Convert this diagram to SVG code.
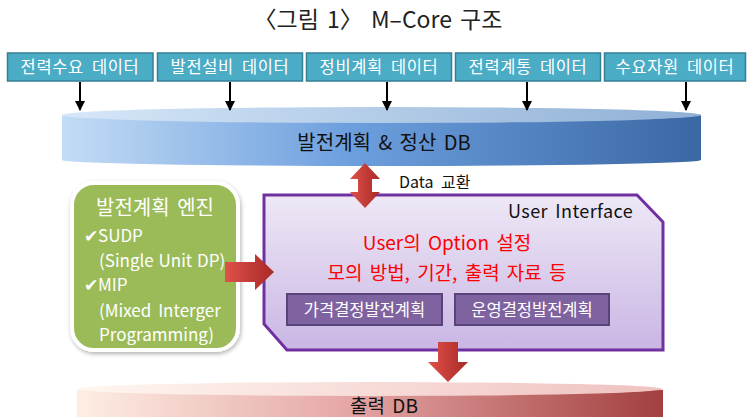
<svg xmlns="http://www.w3.org/2000/svg" width="747" height="417" viewBox="0 0 747 417">
<style>
text{font-family:"Noto Sans CJK KR","Noto Sans",sans-serif}
.title{font-size:23px;fill:#222;word-spacing:3px}
.src rect{fill:#4bacc6;stroke:#357f94;stroke-width:1.5}
.src text{font-size:16.5px;fill:#fff;text-anchor:middle;letter-spacing:0.6px;word-spacing:4px}
.arr{stroke:#000;stroke-width:2;fill:none;marker-end:url(#ah)}
.eng{font-size:17px;fill:#fff}
.red{font-size:19px;fill:#ff0000;text-anchor:middle;word-spacing:3px}
.sub rect{fill:#7f63a1;stroke:#5a4378;stroke-width:2}
.sub text{font-size:16.5px;fill:#fff;text-anchor:middle}
.rarrow{fill:url(#redg)}
</style>
<defs>
<marker id="ah" viewBox="0 0 10 10" refX="9" refY="5" markerWidth="5" markerHeight="5" orient="auto"><path d="M0,0 L10,5 L0,10 z" fill="#000"/></marker>
<linearGradient id="blueBody" x1="0" x2="1" y1="0" y2="0"><stop offset="0" stop-color="#c3dcf5"/><stop offset="0.45" stop-color="#6d9fde"/><stop offset="1" stop-color="#3a68a4"/></linearGradient>
<linearGradient id="blueTop" x1="0" x2="1"><stop offset="0" stop-color="#d6e7f8"/><stop offset="1" stop-color="#8fb0d6"/></linearGradient>
<linearGradient id="pinkBody" x1="0" x2="1"><stop offset="0" stop-color="#fdeee4"/><stop offset="0.45" stop-color="#e6a9a8"/><stop offset="1" stop-color="#a33f3f"/></linearGradient>
<linearGradient id="pinkTop" x1="0" x2="1"><stop offset="0" stop-color="#fff6f0"/><stop offset="1" stop-color="#efc2c0"/></linearGradient>
<linearGradient id="uiFill" x1="0" x2="0" y1="0" y2="1"><stop offset="0" stop-color="#eee8f6"/><stop offset="1" stop-color="#c9b6e4"/></linearGradient>
<linearGradient id="redg" x1="0" x2="1"><stop offset="0" stop-color="#e0504a"/><stop offset="1" stop-color="#a82a26"/></linearGradient>
<filter id="sh" x="-10%" y="-10%" width="130%" height="130%"><feDropShadow dx="1" dy="2" stdDeviation="2" flood-opacity="0.3"/></filter>
</defs>

<text class="title" x="378" y="28" text-anchor="middle">〈그림 1〉 M‒Core 구조</text>

<g id="src1" class="src"><rect x="7.5" y="53" width="145.5" height="28"/><text x="80" y="73">전력수요 데이터</text></g>
<g id="src2" class="src"><rect x="157.5" y="53" width="145" height="28"/><text x="230" y="73">발전설비 데이터</text></g>
<g id="src3" class="src"><rect x="306.5" y="53" width="145" height="28"/><text x="379" y="73">정비계획 데이터</text></g>
<g id="src4" class="src"><rect x="455.5" y="53" width="145" height="28"/><text x="528" y="73">전력계통 데이터</text></g>
<g id="src5" class="src"><rect x="604.5" y="53" width="141" height="28"/><text x="675" y="73">수요자원 데이터</text></g>

<g id="db-main">
<path d="M62,115 L62,160 A319.5,6 0 0 0 701,160 L701,115 z" fill="url(#blueBody)"/>
<ellipse cx="381.5" cy="115" rx="319.5" ry="8" fill="url(#blueTop)"/>
<text x="384" y="150" font-size="20" fill="#111" text-anchor="middle" word-spacing="3">발전계획 &amp; 정산 DB</text>
</g>

<g id="engine">
<rect x="72" y="183" width="166" height="167" rx="22" fill="#9bbb59" stroke="#fff" stroke-width="4" filter="url(#sh)"/>
<text x="155" y="215" font-size="20" fill="#fff" text-anchor="middle" word-spacing="3">발전계획 엔진</text>
<text class="eng" x="84" y="242">✔SUDP</text>
<text class="eng" x="99" y="267" word-spacing="1">(Single Unit DP)</text>
<text class="eng" x="84" y="291">✔MIP</text>
<text class="eng" x="99" y="317" word-spacing="3">(Mixed Interger</text>
<text class="eng" x="99" y="341">Programming)</text>
</g>

<g id="ui">
<path d="M264,195 L637,195 L663,222 L663,350 L287,350 L264,324 z" fill="url(#uiFill)" stroke="#7030a0" stroke-width="3"/>
<text x="633" y="218" font-size="18" fill="#111" text-anchor="end" word-spacing="3" letter-spacing="0.4">User Interface</text>
<text class="red" x="447" y="250">User의 Option 설정</text>
<text class="red" x="447" y="280">모의 방법, 기간, 출력 자료 등</text>
<g id="sub1" class="sub"><rect x="287" y="294" width="155" height="31"/><text x="364.5" y="316">가격결정발전계획</text></g>
<g id="sub2" class="sub"><rect x="455" y="294" width="154" height="31"/><text x="532" y="316">운영결정발전계획</text></g>
</g>

<g id="db-out">
<path d="M77,390 L77,417 L663,417 L663,390 z" fill="url(#pinkBody)"/>
<ellipse cx="370" cy="389" rx="293" ry="7" fill="url(#pinkTop)"/>
<text x="384" y="413" font-size="19" fill="#111" text-anchor="middle" word-spacing="3">출력 DB</text>
</g>

<g id="connectors">
<line class="arr" x1="80" y1="82" x2="80" y2="110"/>
<line class="arr" x1="230" y1="82" x2="230" y2="110"/>
<line class="arr" x1="387" y1="82" x2="387" y2="110"/>
<line class="arr" x1="527" y1="82" x2="527" y2="110"/>
<line class="arr" x1="686" y1="82" x2="686" y2="110"/>
<path class="rarrow" d="M365,163 L380,179 L372,179 L372,192 L380,192 L365,208 L350,192 L358,192 L358,179 L350,179 z"/>
<text x="399" y="188" font-size="16" fill="#111" word-spacing="4">Data 교환</text>
<path class="rarrow" d="M225,262 L255,262 L255,254 L274,272 L255,290 L255,282 L225,282 z"/>
<path class="rarrow" d="M438,342 L458,342 L458,362 L468,362 L448,382 L428,362 L438,362 z"/>
</g>
</svg>
